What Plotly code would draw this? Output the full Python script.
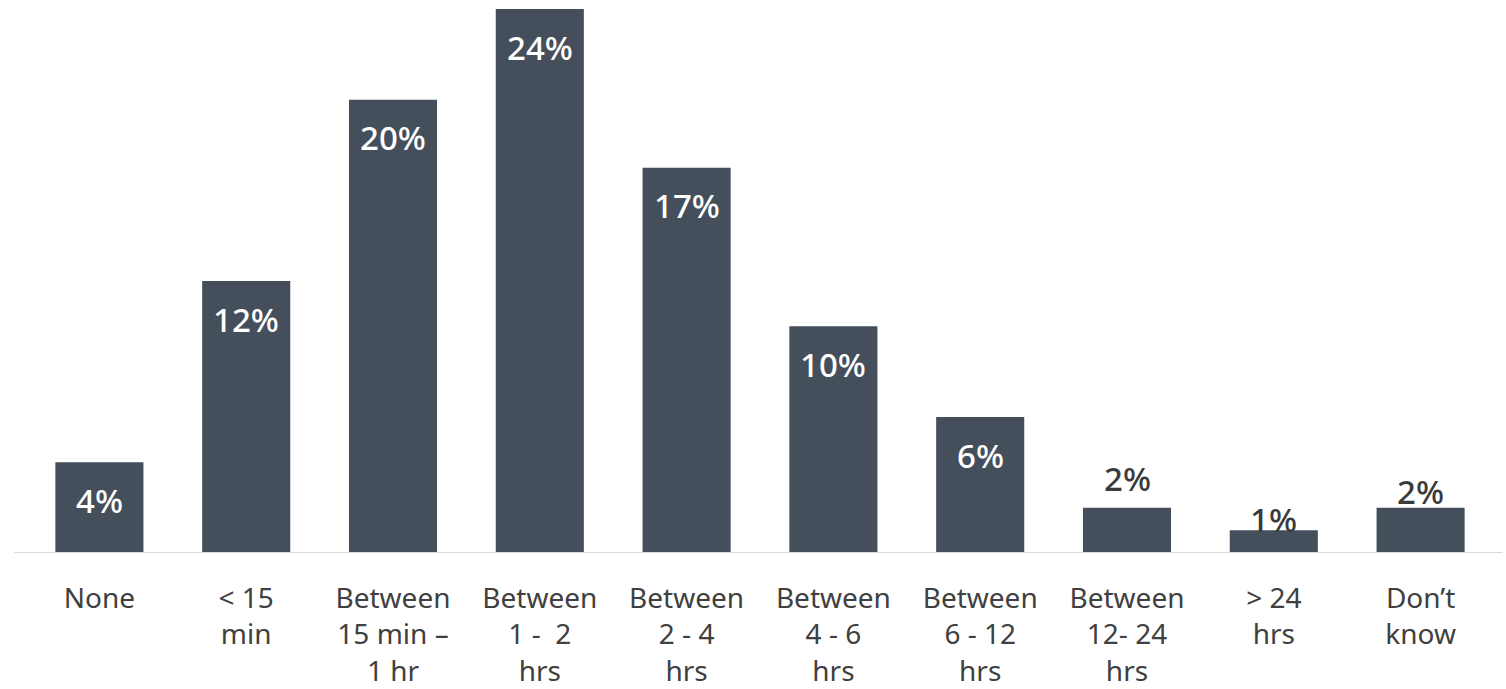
import plotly.graph_objects as go

categories = ["None", "< 15 min", "Between 15 min – 1 hr", "Between 1 - 2 hrs",
              "Between 2 - 4 hrs", "Between 4 - 6 hrs", "Between 6 - 12 hrs",
              "Between 12- 24 hrs", "> 24 hrs", "Don’t know"]
tick_labels = ["None", "< 15<br>min", "Between<br>15 min –<br>1 hr", "Between<br>1 -  2<br>hrs",
               "Between<br>2 - 4<br>hrs", "Between<br>4 - 6<br>hrs", "Between<br>6 - 12<br>hrs",
               "Between<br>12- 24<br>hrs", "> 24<br>hrs", "Don’t<br>know"]
values = [4, 12, 20, 24, 17, 10, 6, 2, 1, 2]

BAR = "#444f5b"
FONT = "Noto Sans"

# label placement (style only): pixel shift from bar top, and colour
label_shift = [-38, -38, -38, -38, -38, -38, -38, 29, 11, 16]
label_color = ["white"] * 7 + ["#3a3a3a"] * 3

fig = go.Figure()
fig.add_trace(go.Bar(x=categories, y=values, marker=dict(color=BAR, line=dict(width=0)),
                     width=0.6, hoverinfo="skip"))

for c, v, s, col in zip(categories, values, label_shift, label_color):
    fig.add_annotation(x=c, y=v, text=f"{v}%", showarrow=False, yanchor="middle",
                       yshift=s, font=dict(family=FONT, size=33, color=col, weight=500))

fig.add_shape(type="line", xref="paper", yref="y", x0=-0.008, x1=1.006, y0=0, y1=0,
              line=dict(color="#d9d9d9", width=2), layer="above")

fig.update_layout(
    width=1506, height=689,
    margin=dict(l=26, r=12, t=0, b=136, autoexpand=False),
    plot_bgcolor="white", paper_bgcolor="white",
    showlegend=False, bargap=0.4,
    font=dict(family=FONT, color="#404040"),
)
fig.update_xaxes(tickmode="array", tickvals=categories, ticktext=tick_labels,
                 tickfont=dict(family=FONT, size=28, color="#404040"),
                 showline=False, ticks="", showgrid=False, ticklabelstandoff=26,
                 automargin=False)
fig.update_yaxes(range=[0, 24.4], visible=False, showgrid=False, zeroline=False,
                 automargin=False)

fig.write_html("out.html")
